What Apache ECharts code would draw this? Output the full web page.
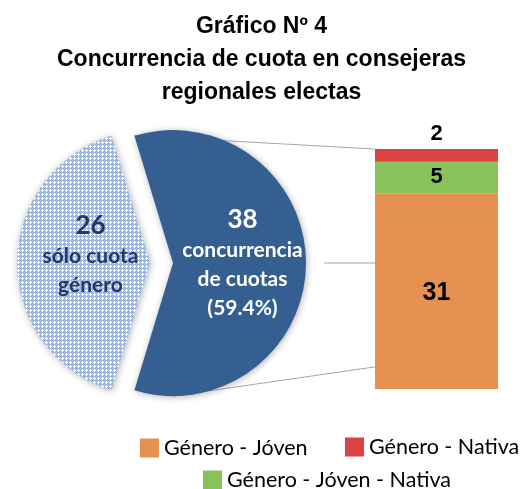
<!DOCTYPE html>
<html>
<head>
<meta charset="utf-8">
<script src="https://cdn.jsdelivr.net/npm/echarts@6/dist/echarts.min.js"></script>
<style>
  html, body { margin: 0; padding: 0; background: #fff; }
  #chart { width: 523px; height: 489px; }
</style>
</head>
<body>
<div id="chart"></div>
<script>
// data
var pieCategories = ['concurrencia\nde cuotas', 'sólo cuota\ngénero'];
var pieValues = [38, 26];
var barCategories = ['Género - Jóven', 'Género - Jóven - Nativa', 'Género - Nativa'];
var barValues = [31, 5, 2];

var barColors = ['#e69151', '#89c25a', '#dc4242'];
var darkBlue = '#355f91';

// pie layout
var pieCx = 150, pieCy = 263, pieR = 133, pieOffset = 23;

var dom = document.getElementById('chart');
var chart = echarts.init(dom);

// dotted fill for the "sólo cuota género" slice
var tile = document.createElement('canvas');
tile.width = 4; tile.height = 4;
var tctx = tile.getContext('2d');
tctx.fillStyle = '#9db7e2';
tctx.fillRect(0, 0, 4, 4);
tctx.fillStyle = '#ffffff';
tctx.fillRect(2, 1, 1, 3);
tctx.fillRect(1, 2, 3, 1);

var pieTotal = pieValues[0] + pieValues[1];
var barTotal = barValues.reduce(function (a, b) { return a + b; }, 0);
var darkAngle = pieValues[0] / pieTotal * 360;

function lines(txt) {
    return txt.split('\n').map(function (l) { return '{txt|' + l + '}'; }).join('\n');
}

var option = {
    animation: false,
    title: {
        text: 'Gráfico Nº 4\nConcurrencia de cuota en consejeras\nregionales electas',
        left: 'center',
        top: 5,
        textStyle: {
            fontFamily: 'Liberation Sans',
            fontSize: 23,
            fontWeight: 'bold',
            lineHeight: 33,
            color: '#000'
        }
    },
    legend: [
        { data: [barCategories[0]], left: 140, top: 437 },
        { data: [barCategories[2]], left: 345, top: 436 },
        { data: [barCategories[1]], left: 203, top: 469 }
    ].map(function (l) {
        l.icon = 'rect';
        l.itemWidth = 19;
        l.itemHeight = 19;
        l.padding = 0;
        l.selectedMode = false;
        l.textStyle = { fontFamily: 'Lato', fontSize: 21.5, color: '#000' };
        return l;
    }),
    grid: { left: 375, right: 25, top: 149, bottom: 100 },
    xAxis: { type: 'category', data: [''], show: false },
    yAxis: { type: 'value', min: 0, max: barTotal, show: false, splitLine: { show: false } },
    series: [
        {
            type: 'pie',
            center: [pieCx, pieCy],
            radius: pieR,
            // dark slice centred on the right side
            startAngle: darkAngle / 2,
            clockwise: true,
            selectedMode: 'single',
            selectedOffset: pieOffset,
            z: 3,
            itemStyle: {
                shadowBlur: 7,
                shadowColor: 'rgba(0,0,0,0.3)',
                shadowOffsetX: 1,
                shadowOffsetY: 1
            },
            label: {
                show: true,
                position: 'inside',
                fontFamily: 'Lato',
                fontWeight: 'bold',
                rich: {
                    num: { fontFamily: 'Lato', fontSize: 26, fontWeight: 'bold', lineHeight: 32 },
                    txt: { fontFamily: 'Lato', fontSize: 21, fontWeight: 'bold', lineHeight: 29 }
                }
            },
            labelLine: { show: false },
            data: [
                {
                    name: pieCategories[0],
                    value: pieValues[0],
                    selected: true,
                    itemStyle: { color: darkBlue },
                    label: {
                        color: '#fff',
                        formatter: function (p) {
                            return '{num|' + p.value + '}\n' + lines(p.name) +
                                '\n{txt|(' + (p.value / pieTotal * 100).toFixed(1) + '%)}';
                        },
                        rich: {
                            num: { color: '#fff' },
                            txt: { color: '#fff' }
                        }
                    }
                },
                {
                    name: pieCategories[1],
                    value: pieValues[1],
                    itemStyle: { color: { image: tile, repetition: 'repeat' } },
                    label: {
                        color: '#1f3864',
                        padding: [0, 0, 16, 20],
                        formatter: function (p) {
                            return '{num|' + p.value + '}\n' + lines(p.name);
                        },
                        rich: {
                            num: { color: '#1f3864' },
                            txt: { color: '#1f3864' }
                        }
                    }
                }
            ]
        }
    ].concat(barCategories.map(function (name, i) {
        return {
            type: 'bar',
            name: name,
            stack: 'total',
            barWidth: '100%',
            z: 2,
            itemStyle: { color: barColors[i] },
            label: {
                show: true,
                position: i === 2 ? 'top' : 'inside',
                distance: 4,
                fontFamily: 'Liberation Sans',
                fontWeight: 'bold',
                fontSize: i === 0 ? 25 : 22,
                color: '#000',
                offset: i === 0 ? [0, 2] : [0, 0]
            },
            data: [barValues[i]]
        };
    }))
};

chart.setOption(option);

// connector lines from the dark slice to the bar
function drawConnectors() {
    var rect = chart.getModel().getComponent('grid').coordinateSystem.getRect();
    var yOf = function (v) { return chart.convertToPixel({ gridIndex: 0 }, [0, v])[1]; };
    var dcx = pieCx + pieOffset;
    var a = darkAngle / 2 * Math.PI / 180;
    var topCorner = [dcx + pieR * Math.cos(a), pieCy - pieR * Math.sin(a)];
    var style = { stroke: '#a6a6a6', lineWidth: 1 };
    chart.setOption({
        graphic: [
            { type: 'line', z: 0, shape: { x1: topCorner[0], y1: topCorner[1], x2: rect.x, y2: yOf(barTotal) }, style: style },
            { type: 'line', z: 0, shape: { x1: dcx + pieR + 18, y1: pieCy, x2: rect.x, y2: pieCy }, style: style },
            { type: 'line', z: 0, shape: { x1: dcx, y1: pieCy + pieR, x2: rect.x, y2: yOf(3.5) }, style: style }
        ]
    });
}
drawConnectors();

window.onresize = chart.resize;
</script>
</body>
</html>
